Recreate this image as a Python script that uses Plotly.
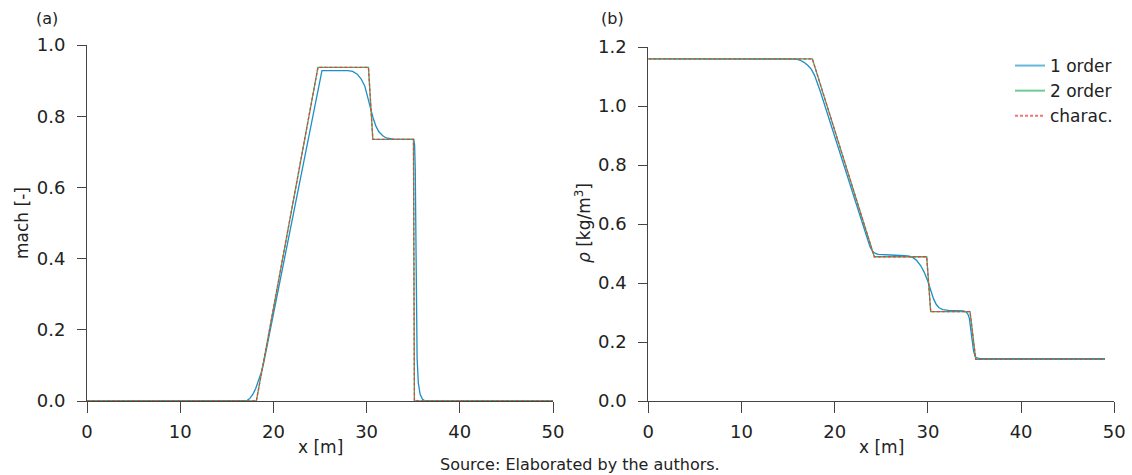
import plotly.graph_objects as go

# ---- panel (a): Mach number along the tube ----
mach_char_x = [0, 18.17, 24.78, 30.2, 30.67, 35.03, 35.13, 50]
mach_char_y = [0, 0, 0.937, 0.937, 0.735, 0.735, 0, 0]

mach_o2_x = [0, 18.17, 24.78, 30.2, 30.67, 35.03, 35.13, 50]
mach_o2_y = [0, 0, 0.937, 0.937, 0.735, 0.735, 0, 0]

mach_o1_x = [0, 16.9, 17.2, 17.5, 17.8, 18.1, 18.4, 18.7, 18.95, 25.21,
             28.0, 28.5, 29.0, 29.4, 29.8, 30.1, 30.4, 30.7, 31.0, 31.3,
             31.7, 32.1, 32.6, 33.0, 35.05, 35.15, 35.22, 35.28, 35.34, 35.42,
             35.55, 35.75, 36.0, 36.3, 50]
mach_o1_y = [0, 0, 0.002, 0.008, 0.019, 0.035, 0.056, 0.08, 0.106, 0.928,
             0.928, 0.926, 0.918, 0.905, 0.885, 0.858, 0.825, 0.795, 0.772, 0.757,
             0.746, 0.739, 0.736, 0.735, 0.735, 0.72, 0.65, 0.45, 0.25, 0.12,
             0.05, 0.018, 0.005, 0, 0]

# ---- panel (b): density along the tube ----
rho_char_x = [0, 17.6, 24.25, 29.87, 30.3, 34.52, 35.13, 49.0]
rho_char_y = [1.16, 1.16, 0.489, 0.489, 0.303, 0.303, 0.141, 0.141]

rho_o2_x = [0, 17.6, 24.25, 29.87, 30.3, 34.52, 35.13, 49.0]
rho_o2_y = [1.16, 1.16, 0.489, 0.489, 0.303, 0.303, 0.141, 0.141]

rho_o1_x = [0, 15.5, 15.9, 16.3, 16.7, 17.1, 17.5, 17.85, 18.2, 18.45,
            23.56, 23.8, 24.05, 24.35, 24.7, 25.5, 26.5, 27.5, 28.0, 28.4,
            28.8, 29.2, 29.6, 30.0, 30.3, 30.6, 30.9, 31.2, 31.6, 32.2,
            33.0, 33.8, 34.1, 34.3, 34.45, 34.6, 34.75, 34.9, 35.05, 35.25,
            35.6, 49.0]
rho_o1_y = [1.16, 1.16, 1.159, 1.155, 1.148, 1.138, 1.124, 1.103, 1.073, 1.05,
            0.545, 0.522, 0.508, 0.500, 0.497, 0.495, 0.494, 0.493, 0.491, 0.486,
            0.476, 0.460, 0.437, 0.405, 0.375, 0.347, 0.327, 0.316, 0.310, 0.307,
            0.306, 0.305, 0.302, 0.294, 0.28, 0.25, 0.205, 0.17, 0.152, 0.146,
            0.1435, 0.1435]

x_ticks = [0, 10, 20, 30, 40, 50]
mach_ticks = [0.0, 0.2, 0.4, 0.6, 0.8, 1.0]
rho_ticks = [0.0, 0.2, 0.4, 0.6, 0.8, 1.0, 1.2]

series_names = ["1 order", "2 order", "charac."]

BLUE = "#1c8ec8"
GREEN = "#2fb56e"
RED = "#e8413c"
LEG_COLORS = ["#66b7da", "#6ecb95", "#f07474"]
AXIS = "#444444"
FONT = "DejaVu Sans"
W, H = 1132, 475

fig = go.Figure()


def add_panel(xa, ya, o1x, o1y, o2x, o2y, cx, cy):
    fig.add_trace(go.Scatter(x=o1x, y=o1y, mode="lines", xaxis=xa, yaxis=ya,
                             line=dict(color=BLUE, width=1.3), showlegend=False))
    fig.add_trace(go.Scatter(x=o2x, y=o2y, mode="lines", xaxis=xa, yaxis=ya,
                             line=dict(color=GREEN, width=1.3), showlegend=False))
    fig.add_trace(go.Scatter(x=cx, y=cy, mode="lines", xaxis=xa, yaxis=ya,
                             line=dict(color=RED, width=1.3, dash="3px,2px"),
                             showlegend=False))


add_panel("x", "y", mach_o1_x, mach_o1_y, mach_o2_x, mach_o2_y,
          mach_char_x, mach_char_y)
add_panel("x2", "y2", rho_o1_x, rho_o1_y, rho_o2_x, rho_o2_y,
          rho_char_x, rho_char_y)

# legend entries (drawn in the density panel)
for name, col, dash in zip(series_names, LEG_COLORS, ["solid", "solid", "3px,2px"]):
    fig.add_trace(go.Scatter(x=[None], y=[None], mode="lines", name=name,
                             xaxis="x2", yaxis="y2",
                             line=dict(color=col, width=2, dash=dash)))

axis_common = dict(showline=True, linecolor=AXIS, linewidth=1, ticks="outside",
                   tickcolor=AXIS, tickwidth=1, showgrid=False, zeroline=False,
                   tickfont=dict(family=FONT, size=18, color="#222"),
                   automargin=False)

ybot = 1 - 401 / H
fig.update_layout(
    width=W, height=H,
    margin=dict(l=0, r=0, t=0, b=0),
    paper_bgcolor="white", plot_bgcolor="white",
    font=dict(family=FONT, color="#222"),
    xaxis=dict(domain=[87 / W, 553 / W], range=[0, 50], tickvals=x_ticks,
               anchor="y", ticklen=11, ticklabelstandoff=3, **axis_common),
    yaxis=dict(domain=[ybot, 1 - 45 / H], range=[0, 1.0], tickvals=mach_ticks,
               tickformat=".1f", anchor="x", ticklen=9, ticklabelstandoff=8,
               **axis_common),
    xaxis2=dict(domain=[648.3 / W, 1114.3 / W], range=[0, 50], tickvals=x_ticks,
                anchor="y2", ticklen=11, ticklabelstandoff=3, **axis_common),
    yaxis2=dict(domain=[ybot, 1 - 47 / H], range=[0, 1.2], tickvals=rho_ticks,
                tickformat=".1f", anchor="x2", ticklen=9, ticklabelstandoff=8,
                **axis_common),
    legend=dict(x=1118 / W, y=1 - 48 / H, xanchor="right", yanchor="top",
                bgcolor="rgba(0,0,0,0)", tracegroupgap=0, itemwidth=30,
                font=dict(family=FONT, size=17, color="#222")),
)

ann = [
    dict(text="(a)", x=47 / W, y=1 - 18 / H),
    dict(text="(b)", x=612 / W, y=1 - 18 / H),
    dict(text="x [m]", x=320 / W, y=1 - 447 / H),
    dict(text="x [m]", x=881 / W, y=1 - 447 / H),
    dict(text="mach [-]", x=22 / W, y=1 - 223 / H, textangle=-90),
    dict(text="<i>ρ</i> [kg/m<sup>3</sup>]", x=583 / W, y=1 - 223 / H, textangle=-90),
    dict(text="Source: Elaborated by the authors.", x=580 / W, y=1 - 464 / H),
]
for a in ann:
    size = 16 if a["text"].startswith(("(", "Source")) else 17
    fig.add_annotation(xref="paper", yref="paper", showarrow=False,
                       xanchor="center", yanchor="middle",
                       font=dict(family=FONT, size=size, color="#222"), **a)

fig.write_html("out.html")
